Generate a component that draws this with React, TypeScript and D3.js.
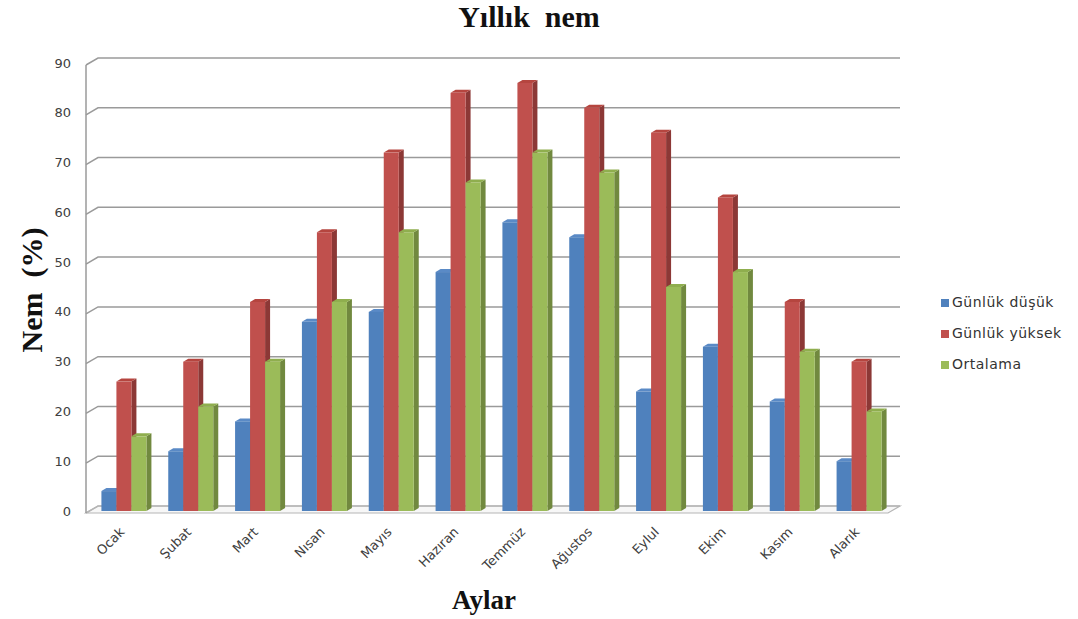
import React from "react";
import * as d3 from "d3";

const months = ["Ocak", "Şubat", "Mart", "Nısan", "Mayıs", "Hazıran", "Temmüz", "Ağustos", "Eylul", "Ekim", "Kasım", "Alarık"];
const seriesNames = ["Günlük düşük", "Günlük yüksek", "Ortalama"];
const dusuk = [4, 12, 18, 38, 40, 48, 58, 55, 24, 33, 22, 10];
const yuksek = [26, 30, 42, 56, 72, 84, 86, 81, 76, 63, 42, 30];
const ortalama = [15, 21, 30, 42, 56, 66, 72, 68, 45, 48, 32, 20];
const yTicks = [0, 10, 20, 30, 40, 50, 60, 70, 80, 90];

const seriesValues = [dusuk, yuksek, ortalama];
const frontColors = ["#4F81BD", "#C0504D", "#9BBB59"];
const sideColors = ["#385D8A", "#8C3836", "#71893F"];
const topColors = ["#5A8AC6", "#B5453F", "#8FAE4E"];

const W = 1078;
const H = 619;
const left = 86;
const right = 888;
const floorY = 513;
const topY = 65;
const depthX = 12;
const depthY = -7;
const barOffX = 4.5;
const barOffY = -2;
const barDepthX = 5;
const barDepthY = -3;
const groupWidth = 45;

export default function App() {
  const x = d3.scaleBand<string>().domain(months).range([left, right]).padding(0);
  const y = d3.scaleLinear().domain([0, 90]).range([floorY, topY]);
  const inner = d3.scaleBand<string>().domain(seriesNames).range([0, groupWidth]).padding(0);
  const step = x.step();

  const bars: React.ReactNode[] = [];
  months.forEach((m, i) => {
    seriesNames.forEach((s, k) => {
      const v = seriesValues[k][i];
      const x0 = (x(m) as number) + (step - groupWidth) / 2 + barOffX + (inner(s) as number);
      const w = inner.bandwidth();
      const yb = y(0) + barOffY;
      const yt = y(v) + barOffY;
      const side = `M${x0 + w},${yt} L${x0 + w + barDepthX},${yt + barDepthY} L${x0 + w + barDepthX},${yb + barDepthY} L${x0 + w},${yb} Z`;
      const top = `M${x0},${yt} L${x0 + barDepthX},${yt + barDepthY} L${x0 + w + barDepthX},${yt + barDepthY} L${x0 + w},${yt} Z`;
      bars.push(
        <g key={`${m}-${s}`}>
          <path d={side} fill={sideColors[k]} />
          <path d={top} fill={topColors[k]} />
          <rect x={x0} y={yt} width={w} height={yb - yt} fill={frontColors[k]} />
        </g>
      );
    });
  });

  const grid = "#9a9a9a";
  const pre = { whiteSpace: "pre" as const };

  return (
    <svg width={W} height={H} style={{ position: "absolute", left: 0, top: 0, background: "#fff" }}>
      {/* floor */}
      <path
        d={`M${left},${floorY} L${right},${floorY} L${right + depthX},${floorY + depthY} L${left + depthX},${floorY + depthY} Z`}
        fill="#f7f7f7"
        stroke="#b5b5b5"
        strokeWidth={1.2}
      />
      {/* gridlines on the back wall */}
      {yTicks.map((t) => (
        <path
          key={t}
          d={`M${left},${y(t)} L${left + depthX},${y(t) + depthY} L${right + depthX},${y(t) + depthY}`}
          fill="none"
          stroke={t === 0 ? "#b5b5b5" : grid}
          strokeWidth={1.5}
        />
      ))}
      <line x1={left} x2={left} y1={y(90)} y2={floorY} stroke={grid} strokeWidth={1.5} />
      {/* y tick labels */}
      {yTicks.map((t) => (
        <text
          key={t}
          x={71}
          y={y(t) - 1}
          textAnchor="end"
          dominantBaseline="middle"
          fontFamily="DejaVu Sans"
          fontSize={13}
          fill="#404040"
        >
          {t}
        </text>
      ))}
      {bars}
      {/* month labels */}
      {months.map((m) => {
        const cx = (x(m) as number) + step / 2 - 1;
        const cy = 526;
        return (
          <text
            key={m}
            transform={`translate(${cx},${cy}) rotate(-45)`}
            textAnchor="end"
            dominantBaseline="hanging"
            fontFamily="DejaVu Sans"
            fontSize={13}
            fill="#404040"
          >
            {m}
          </text>
        );
      })}
      {/* titles */}
      <text x={529} y={27} textAnchor="middle" fontFamily="Liberation Serif" fontWeight="bold" fontSize={30} fill="#111" style={pre}>
        {"Yıllık  nem"}
      </text>
      <text
        transform={`translate(42,290) rotate(-90)`}
        textAnchor="middle"
        fontFamily="Liberation Serif"
        fontWeight="bold"
        fontSize={30}
        fill="#111"
        style={pre}
      >
        {"Nem  (%)"}
      </text>
      <text x={484} y={609} textAnchor="middle" fontFamily="Liberation Serif" fontWeight="bold" fontSize={27} fill="#111">
        Aylar
      </text>
      {/* legend */}
      {seriesNames.map((s, k) => (
        <g key={s} transform={`translate(941,${303 + k * 31})`}>
          <rect x={0} y={-4} width={8} height={8} fill={frontColors[k]} />
          <text x={11} y={0} dominantBaseline="middle" fontFamily="DejaVu Sans" fontSize={14} letterSpacing={0.5} fill="#333">
            {s}
          </text>
        </g>
      ))}
    </svg>
  );
}
